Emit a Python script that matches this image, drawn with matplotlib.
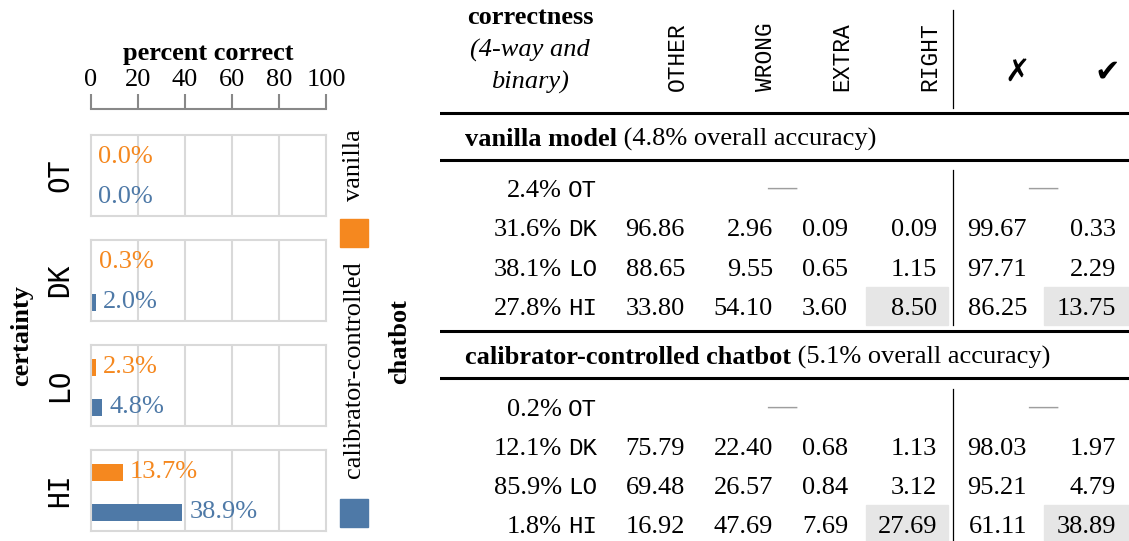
import matplotlib
matplotlib.use("Agg")
import matplotlib.pyplot as plt
from matplotlib.patches import Rectangle

plt.rcParams['font.family'] = ['Liberation Serif', 'DejaVu Sans']

# ---- data ----
certainty = ['OT', 'DK', 'LO', 'HI']
vanilla_correct = [0.0, 0.3, 2.3, 13.7]
chatbot_correct = [0.0, 2.0, 4.8, 38.9]

four_way = ['OTHER', 'WRONG', 'EXTRA', 'RIGHT']
binary = ['\u2717', '\u2714']

vanilla_share = [2.4, 31.6, 38.1, 27.8]
vanilla_other = [None, 96.86, 88.65, 33.80]
vanilla_wrong = [None, 2.96, 9.55, 54.10]
vanilla_extra = [None, 0.09, 0.65, 3.60]
vanilla_right = [None, 0.09, 1.15, 8.50]
vanilla_no = [None, 99.67, 97.71, 86.25]
vanilla_yes = [None, 0.33, 2.29, 13.75]

chatbot_share = [0.2, 12.1, 85.9, 1.8]
chatbot_other = [None, 75.79, 69.48, 16.92]
chatbot_wrong = [None, 22.40, 26.57, 47.69]
chatbot_extra = [None, 0.68, 0.84, 7.69]
chatbot_right = [None, 1.13, 3.12, 27.69]
chatbot_no = [None, 98.03, 95.21, 61.11]
chatbot_yes = [None, 1.97, 4.79, 38.89]

orange = '#F5881F'
blue = '#4E79A7'
grid_gray = '#D9D9D9'
fs = 19

W, H = 1129, 541
fig = plt.figure(figsize=(W / 100, H / 100), dpi=100)


def fx(px):
    return px / W


def fy(py):
    return 1 - py / H


# ---- left: percent correct scale ----
ax_s = fig.add_axes([fx(91), fy(109), 235 / W, 0.0005])
ax_s.set_xlim(0, 100)
ax_s.set_xticks(range(0, 101, 20))
ax_s.set_yticks([])
ax_s.xaxis.tick_top()
ax_s.tick_params(axis='x', direction='out', length=11, width=1.5, color='#888888',
                 pad=2, labelsize=fs)
for s in ['bottom', 'left', 'right']:
    ax_s.spines[s].set_visible(False)
ax_s.spines['top'].set_color('#888888')
ax_s.spines['top'].set_linewidth(1.5)
ax_s.xaxis.set_label_position('top')
ax_s.set_xlabel('percent correct', fontsize=fs, fontweight='bold', labelpad=6)

# ---- left: one panel per certainty level ----
for i, cat in enumerate(certainty):
    top = 135 + i * 105
    ax = fig.add_axes([fx(91), fy(top + 81), 235 / W, 81 / H])
    ax.barh([0], [vanilla_correct[i]], height=0.425, color=orange)
    ax.barh([1], [chatbot_correct[i]], height=0.425, color=blue)
    for y, v, c in [(0, vanilla_correct[i], orange), (1, chatbot_correct[i], blue)]:
        ax.annotate(f'{v:.1f}%', xy=(v, y), xytext=(5, 0), textcoords='offset points',
                    ha='left', va='center', color=c, fontsize=fs)
    ax.set_xlim(0, 100)
    ax.set_ylim(1.475, -0.55)
    ax.set_xticks([20, 40, 60, 80])
    ax.set_yticks([])
    ax.set_axisbelow(True)
    ax.grid(axis='x', color=grid_gray, lw=1.5)
    ax.tick_params(length=0, labelbottom=False)
    for s in ax.spines.values():
        s.set_color(grid_gray)
        s.set_linewidth(1.5)
    ax.text(-0.13, 0.5, cat, transform=ax.transAxes, rotation=90, ha='center',
            va='center', family='DejaVu Sans Mono', fontsize=20)

fig.text(fx(22), fy(335), 'certainty', rotation=90, ha='center', va='center',
         fontsize=fs, fontweight='bold')

# legend drawn vertically
fig.text(fx(354), fy(165), 'vanilla', rotation=90, ha='center', va='center', fontsize=fs)
fig.add_artist(Rectangle((fx(340), fy(247)), 28 / W, 28 / H, transform=fig.transFigure,
                         color=orange))
fig.text(fx(354), fy(370), 'calibrator-controlled', rotation=90, ha='center',
         va='center', fontsize=fs)
fig.add_artist(Rectangle((fx(340), fy(527)), 28 / W, 28 / H, transform=fig.transFigure,
                         color=blue))
fig.text(fx(400), fy(342), 'chatbot', rotation=90, ha='center', va='center',
         fontsize=fs, fontweight='bold')

# ---- right: table ----
tax = fig.add_axes([fx(440), 0, 689 / W, 1])
tax.set_xlim(440, 1129)
tax.set_ylim(541, 0)
tax.axis('off')

tax.text(530, 18, 'correctness', ha='center', va='center', fontsize=fs, fontweight='bold')
tax.text(530, 50, '(4-way and', ha='center', va='center', fontsize=fs, style='italic')
tax.text(530, 82, 'binary)', ha='center', va='center', fontsize=fs, style='italic')

head_x = [677, 766, 842, 930]
for name, x in zip(four_way, head_x):
    tax.text(x, 91, name, rotation=90, ha='center', va='bottom',
             family='Liberation Mono', fontsize=16.5)
for sym, x in zip(binary, [1017, 1107]):
    tax.text(x, 72, sym, ha='center', va='center', family='DejaVu Sans', fontsize=22)

tax.plot([953, 953], [10, 108], color='k', lw=0.9)

col_right = [685, 773, 848, 937, 1027, 1116]
shade = '#E6E6E6'


def section(title, extra, title_y, rows_y, share, cols):
    t = tax.text(465, title_y, title, ha='left', va='baseline', fontsize=fs,
                 fontweight='bold')
    tax.annotate(' ' + extra, xy=(1, title_y), xycoords=(t, 'data'), ha='left',
                 va='baseline', fontsize=fs)
    tax.axhline(title_y - 33, color='k', lw=2.2)
    tax.axhline(title_y + 14, color='k', lw=2.2)
    tax.plot([953, 953], [rows_y[0] - 18, rows_y[-1] + 19], color='k', lw=0.9)
    for r, y in enumerate(rows_y):
        base = y + 9
        tax.text(562, base, f'{share[r]:.1f}%', ha='right', va='baseline', fontsize=fs)
        tax.text(568, base, certainty[r], ha='left', va='baseline',
                 family='Liberation Mono', fontsize=17.5)
        if cols[0][r] is None:
            for dx in [782, 1043]:
                tax.text(dx, y, '\u2014', ha='center', va='center', color='#9E9E9E',
                         fontsize=21, fontweight='bold')
            continue
        for c, vals in enumerate(cols):
            tax.text(col_right[c], base, f'{vals[r]:.2f}', ha='right', va='baseline',
                     fontsize=fs)
    # highlight the correct share for the HI row
    hy = rows_y[-1]
    tax.add_patch(Rectangle((866, hy - 19), 82, 38, color=shade, zorder=0))
    tax.add_patch(Rectangle((1044, hy - 19), 85, 38, color=shade, zorder=0))


vanilla_rows = [188, 227, 267, 306]
chatbot_rows = [407, 446, 485, 524]
section('vanilla model', '(4.8% overall accuracy)', 146, vanilla_rows, vanilla_share,
        [vanilla_other, vanilla_wrong, vanilla_extra, vanilla_right, vanilla_no, vanilla_yes])
section('calibrator-controlled chatbot', '(5.1% overall accuracy)', 364, chatbot_rows,
        chatbot_share,
        [chatbot_other, chatbot_wrong, chatbot_extra, chatbot_right, chatbot_no, chatbot_yes])

fig.savefig('out.png', dpi=100)
